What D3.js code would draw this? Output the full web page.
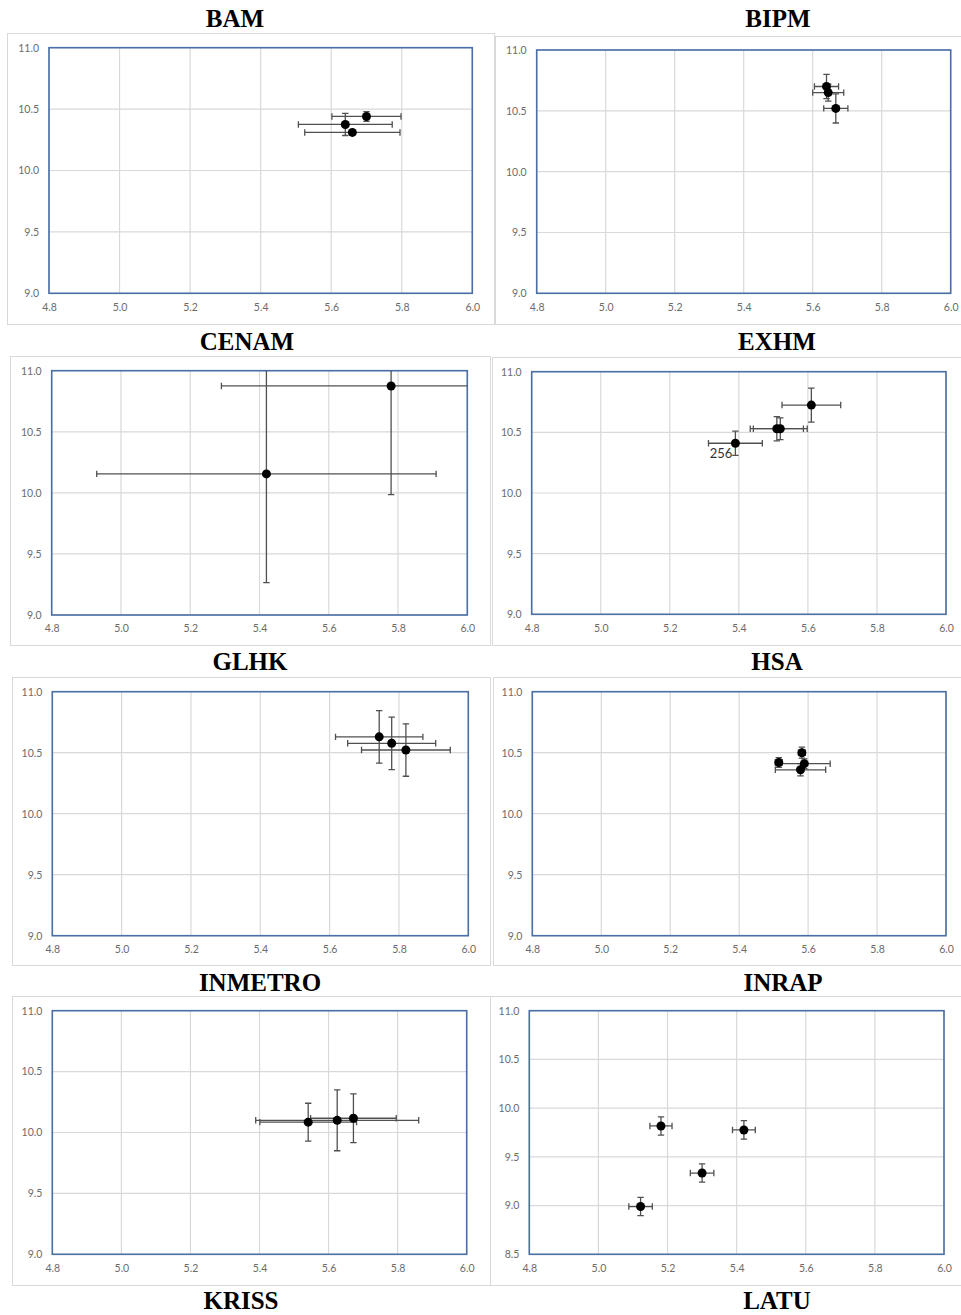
<!DOCTYPE html>
<html><head><meta charset="utf-8">
<script src="https://cdn.jsdelivr.net/npm/d3@7"></script>
<style>
html,body{margin:0;padding:0;background:#fff;}
svg{display:block;}
</style></head>
<body>
<svg id="c" width="961" height="1315"></svg>
<script>
// ---- titles (captions) ----
const titles = ["BAM","BIPM","CENAM","EXHM","GLHK","HSA","INMETRO","INRAP","KRISS","LATU"];

// ---- tick labels ----
const xTicks = [4.8,5.0,5.2,5.4,5.6,5.8,6.0];
const yTicks = [9.0,9.5,10.0,10.5,11.0];
const yTicksLatu = [8.5,9.0,9.5,10.0,10.5,11.0];

// ---- data: [x, y, xErr, yErr] per point ----
const cenamPts   = [[5.70,10.44,0.098,0.04],[5.64,10.375,0.133,0.09],[5.66,10.31,0.135,0.02]];
const exhmPts    = [[5.64,10.70,0.035,0.10],[5.645,10.65,0.045,0.07],[5.667,10.52,0.035,0.12]];
const glhkPts    = [[5.42,10.155,0.49,0.89],[5.78,10.875,0.49,0.89]];
const hsaPts     = [[5.39,10.41,0.078,0.10],[5.51,10.53,0.077,0.10],[5.52,10.53,0.078,0.09],[5.61,10.725,0.085,0.14]];
const hsaLabels  = ["256","","",""];
const inmetroPts = [[5.743,10.63,0.126,0.215],[5.779,10.577,0.127,0.215],[5.82,10.522,0.128,0.215]];
const inrapPts   = [[5.515,10.42,0.01,0.04],[5.582,10.50,0.01,0.045],[5.589,10.41,0.075,0.04],[5.578,10.36,0.073,0.05]];
const krissPts   = [[5.541,10.085,0.14,0.155],[5.625,10.10,0.236,0.25],[5.672,10.117,0.124,0.20]];
const latuPts    = [[5.181,9.817,0.032,0.093],[5.421,9.776,0.033,0.095],[5.30,9.334,0.034,0.094],[5.122,8.99,0.034,0.094]];

// ---- layout (positions only) ----
const panels = [
  {data:cenamPts,   frame:[7,33,494,324],    plot:[49,47.7,472.3,293.3],     yt:yTicks},
  {data:exhmPts,    frame:[495,36,962,324],  plot:[536.7,50,950.7,293.3],    yt:yTicks},
  {data:glhkPts,    frame:[10,356,490,645],  plot:[51.7,370.7,467.3,615],    yt:yTicks},
  {data:hsaPts,     frame:[492,357,962,645], plot:[531.7,371.7,946,614.3],   yt:yTicks, labels:hsaLabels},
  {data:inmetroPts, frame:[12,677,490,965],  plot:[52.3,691.7,468.3,935.7],  yt:yTicks},
  {data:inrapPts,   frame:[493,677,962,965], plot:[532.3,691.7,946,935.7],   yt:yTicks},
  {data:krissPts,   frame:[12,996,490,1285], plot:[52.3,1010.7,466.7,1254.3],yt:yTicks},
  {data:latuPts,    frame:[490,996,962,1285],plot:[529.3,1010.7,944,1254.3], yt:yTicksLatu}
];
const titlePos = [[235,27],[778,27],[247,350],[777,350],[250,670],[777,670],[260,991],[783,991],[241,1309],[777,1309]];

const svg = d3.select("#c");

panels.forEach((p,i)=>{
  const g = svg.append("g");
  const [fx1,fy1,fx2,fy2] = p.frame;
  g.append("rect").attr("x",fx1+0.5).attr("y",fy1+0.5).attr("width",fx2-fx1).attr("height",fy2-fy1)
    .attr("fill","#fff").attr("stroke","#d9d9d9").attr("stroke-width",1);
  const [x1,y1,x2,y2] = p.plot;
  const yd = d3.extent(p.yt);
  const x = d3.scaleLinear().domain([4.8,6.0]).range([x1,x2]);
  const y = d3.scaleLinear().domain(yd).range([y2,y1]);

  // gridlines
  g.append("g").selectAll("line").data(xTicks).join("line")
    .attr("x1",d=>x(d)).attr("x2",d=>x(d)).attr("y1",y1).attr("y2",y2)
    .attr("stroke","#d9d9d9").attr("stroke-width",1.2);
  g.append("g").selectAll("line").data(p.yt).join("line")
    .attr("y1",d=>y(d)).attr("y2",d=>y(d)).attr("x1",x1).attr("x2",x2)
    .attr("stroke","#d9d9d9").attr("stroke-width",1.2);

  // axes (labels only)
  const xa = g.append("g").attr("transform",`translate(0,${y2})`)
    .call(d3.axisBottom(x).tickValues(xTicks).tickFormat(d3.format(".1f")).tickSize(0).tickPadding(10));
  const ya = g.append("g").attr("transform",`translate(${x1},0)`)
    .call(d3.axisLeft(y).tickValues(p.yt).tickFormat(d3.format(".1f")).tickSize(0).tickPadding(10));
  [xa,ya].forEach(a=>{
    a.select(".domain").remove();
    a.selectAll("text").attr("fill","#6b6b6b").style("font-family","Lato, 'Open Sans', sans-serif").style("font-size","10.5px");
  });

  // plot border
  g.append("rect").attr("x",x1).attr("y",y1).attr("width",x2-x1).attr("height",y2-y1)
    .attr("fill","none").attr("stroke","#4a6ea6").attr("stroke-width",1.6);

  // clip for error bars
  const cid = "clip"+i;
  svg.append("clipPath").attr("id",cid).append("rect")
    .attr("x",x1).attr("y",y1).attr("width",x2-x1).attr("height",y2-y1);
  const eb = g.append("g").attr("clip-path",`url(#${cid})`)
    .attr("stroke","#505050").attr("stroke-width",1.3).attr("fill","none");
  const cap = 3.2;
  p.data.forEach(d=>{
    const [vx,vy,ex,ey] = d;
    const px = x(vx), py = y(vy);
    // horizontal
    eb.append("line").attr("x1",x(vx-ex)).attr("x2",x(vx+ex)).attr("y1",py).attr("y2",py);
    eb.append("line").attr("x1",x(vx-ex)).attr("x2",x(vx-ex)).attr("y1",py-cap).attr("y2",py+cap);
    eb.append("line").attr("x1",x(vx+ex)).attr("x2",x(vx+ex)).attr("y1",py-cap).attr("y2",py+cap);
    // vertical
    eb.append("line").attr("x1",px).attr("x2",px).attr("y1",y(vy-ey)).attr("y2",y(vy+ey));
    eb.append("line").attr("x1",px-cap).attr("x2",px+cap).attr("y1",y(vy-ey)).attr("y2",y(vy-ey));
    eb.append("line").attr("x1",px-cap).attr("x2",px+cap).attr("y1",y(vy+ey)).attr("y2",y(vy+ey));
  });
  g.append("g").selectAll("circle").data(p.data).join("circle")
    .attr("cx",d=>x(d[0])).attr("cy",d=>y(d[1])).attr("r",4.5).attr("fill","#000");

  if (p.labels) {
    g.append("g").selectAll("text").data(p.data.map((d,k)=>[d,p.labels[k]]).filter(e=>e[1])).join("text")
      .attr("x",e=>x(e[0][0])-3).attr("y",e=>y(e[0][1])+15)
      .attr("text-anchor","end").attr("fill","#333")
      .style("font-family","Lato, 'Open Sans', sans-serif").style("font-size","13px")
      .text(e=>e[1]);
  }
});

svg.append("g").selectAll("text").data(titles).join("text")
  .attr("x",(d,i)=>titlePos[i][0]).attr("y",(d,i)=>titlePos[i][1])
  .attr("text-anchor","middle")
  .style("font-family","'Liberation Serif', 'Times New Roman', serif")
  .style("font-weight","bold").style("font-size","25px").attr("fill","#000")
  .text(d=>d);
</script>
</body></html>
